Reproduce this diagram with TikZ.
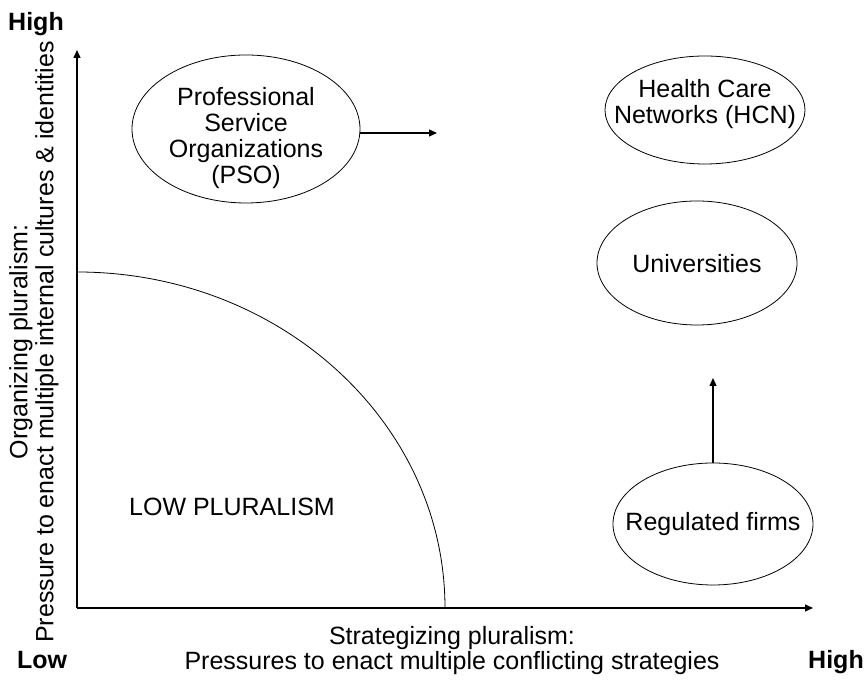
\documentclass[tikz,border=0pt]{standalone}
\usepackage{fontspec}
\setmainfont{Liberation Sans}
\usetikzlibrary{arrows.meta}
\begin{document}
\begin{tikzpicture}[x=0.5pt,y=0.5pt,font=\fontsize{12.5}{13}\selectfont]
            \tikzset{axis/.style={line width=0.7pt, -{Triangle[length=4pt,width=3.5pt]}}}
            \tikzset{ring/.style={thin}}
            \tikzset{move/.style={line width=0.6pt, -{Triangle[length=4pt,width=3.5pt]}}}
            \tikzset{level/.style={anchor=base, font=\fontsize{12.5}{13}\bfseries}}
            \useasboundingbox (0,0) rectangle (864,684);
            % axes
            \coordinate (origin) at (77,76);
            \coordinate (ytop) at (77,634);
            \coordinate (xend) at (813,76);
            \draw[axis] (origin) -- (ytop);
            \draw[axis] (origin) -- (xend);
            \node[font=\fontsize{12.5}{13}\bfseries] (yhigh) at (36,660) {High};
            \node[level] (xlow) at (42,15) {Low};
            \node[level] (xhigh) at (836,15) {High};
            \node[anchor=base] (xname) at (452,39) {Strategizing pluralism:};
            \node[anchor=base] (xlabel) at (452,14) {Pressures to enact multiple conflicting strategies};
            \node[align=center, rotate=90] (ylabel) at (34,342) {Organizing pluralism:\\Pressure to enact multiple internal cultures \& identities};
            % low pluralism boundary
            \draw[ring] (77,412) arc [start angle=90, end angle=0, x radius=368, y radius=336];
            \node (low) at (232,177) {LOW PLURALISM};
            % organizations
            \node[align=center] (pso) at (246,546) {Professional\\Service\\Organizations\\(PSO)};
            \draw[ring] (246,555) ellipse [x radius=114, y radius=74];
            \node[align=center] (hcn) at (705,580) {Health Care\\Networks (HCN)};
            \draw[ring] (705,574) ellipse [x radius=100, y radius=54];
            \node (univ) at (697,420) {Universities};
            \draw[ring] (697,421) ellipse [x radius=100, y radius=62];
            \node (reg) at (713,160) {Regulated firms};
            \draw[ring] (713,160) ellipse [x radius=100, y radius=61];
            % movements
            \coordinate (psoedge) at (360,551);
            \coordinate (psotip) at (437,551);
            \coordinate (regedge) at (713,221);
            \coordinate (regtip) at (713,306);
            \draw[move] (psoedge) -- (psotip);
            \draw[move] (regedge) -- (regtip);
        \end{tikzpicture}
\end{document}
